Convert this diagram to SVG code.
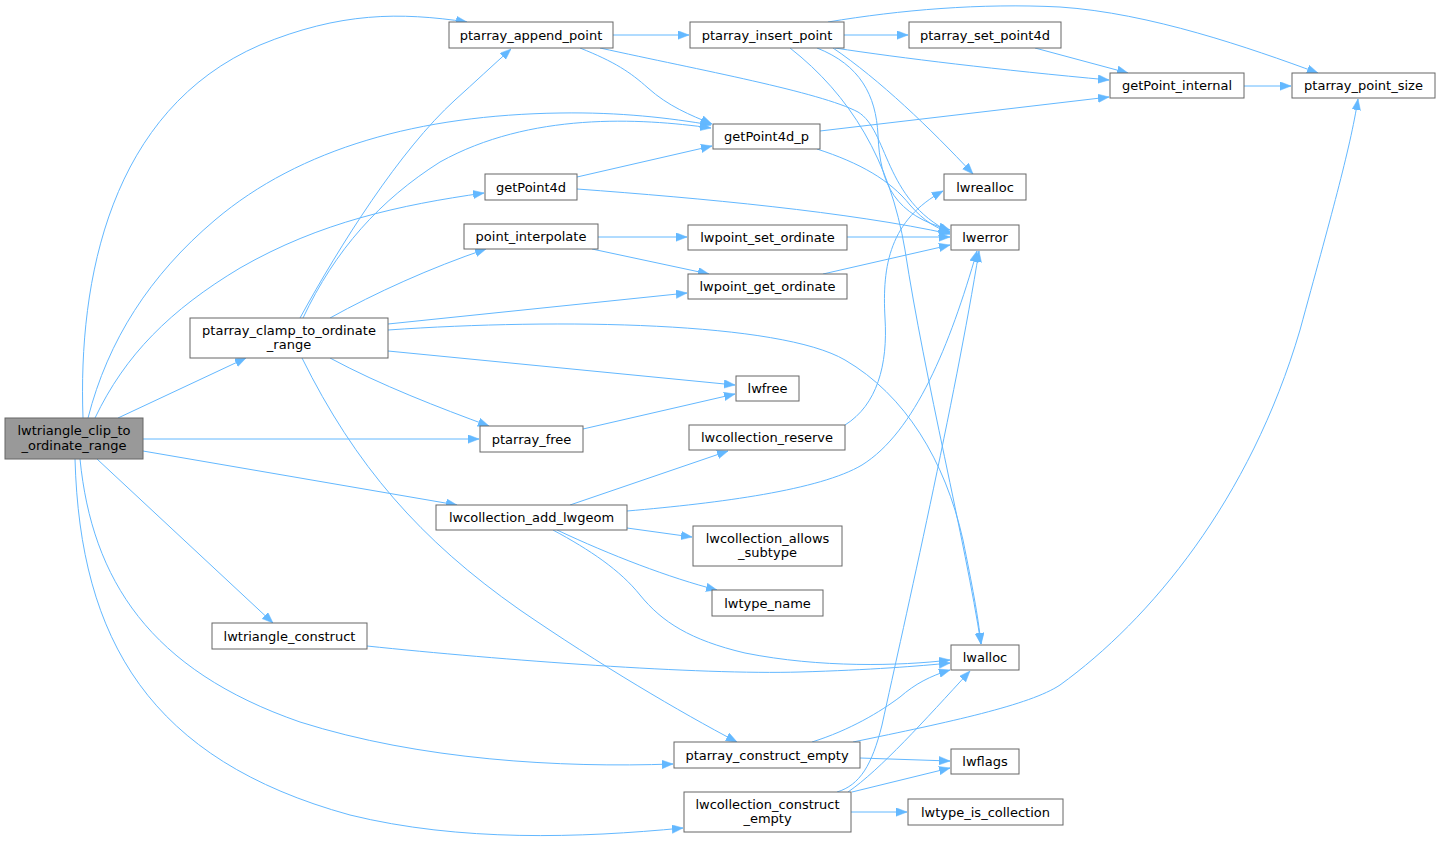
<svg xmlns="http://www.w3.org/2000/svg" width="1440" height="846" viewBox="0 0 1440 846">
<style>
.bg{fill:#ffffff}
.node rect{fill:#ffffff;stroke:#666666;stroke-width:1}
.node.main rect{fill:#999999}
.node text{font-family:"DejaVu Sans","Liberation Sans",sans-serif;font-size:13px;fill:#000000;text-anchor:middle}
.edges path{fill:none;stroke:#63b8ff;stroke-width:1;marker-end:url(#ah)}
</style>
<defs>
<marker id="ah" markerUnits="userSpaceOnUse" markerWidth="11" markerHeight="9" refX="11" refY="4.25" orient="auto">
<path d="M0,0 L11,4.25 L0,8.5 z" fill="#63b8ff" stroke="#63b8ff" stroke-width="0.5"/>
</marker>
</defs>
<rect class="bg" x="0" y="0" width="1440" height="846"/>
<g class="edges" id="edges">
<path d="M83,418 C78,280 110,110 260,45 C340,12 400,12 467,22"/>
<path d="M88,418 C108,340 150,275 215,220 C300,148 420,115 560,113 C620,112 670,118 711,125"/>
<path d="M95,418 C125,355 170,310 240,268 C320,222 400,205 484,193"/>
<path d="M118,418 L246,358"/>
<path d="M143,439 L479,439"/>
<path d="M143,451 L457,505"/>
<path d="M97,459 L273,623"/>
<path d="M80,459 C92,580 150,670 300,722 C420,760 560,768 673,764"/>
<path d="M75,459 C80,640 150,760 350,815 C460,842 580,838 683,828"/>
<path d="M300,318 C340,245 400,150 455,100 C475,82 492,66 511,49"/>
<path d="M303,318 C335,250 380,200 440,162 C530,112 640,118 711,128"/>
<path d="M330,318 C375,293 430,268 486,249"/>
<path d="M388,324 L687,293"/>
<path d="M388,330 C560,318 780,322 845,360 C905,395 945,460 963,540 C972,585 978,615 981,644"/>
<path d="M388,351 L735,385"/>
<path d="M330,358 C380,385 440,408 489,426"/>
<path d="M302,358 C355,465 420,540 520,610 C600,665 680,712 737,742"/>
<path d="M613,35 L689,35"/>
<path d="M580,48 C615,62 630,72 648,88 C668,106 690,115 712,124"/>
<path d="M600,48 C700,70 820,92 858,112 C888,130 884,200 950,232"/>
<path d="M844,35 L908,35"/>
<path d="M828,22 C900,10 980,3 1060,7 C1150,13 1250,48 1318,73"/>
<path d="M835,48 C900,58 1000,70 1109,80"/>
<path d="M833,48 C880,80 930,128 973,174"/>
<path d="M817,48 C860,65 876,95 878,135 C880,185 895,215 950,230"/>
<path d="M790,48 C850,95 890,160 905,250 C925,380 965,540 981,644"/>
<path d="M820,131 L1109,97"/>
<path d="M817,149 C860,163 890,180 910,205 C925,222 935,227 950,233"/>
<path d="M577,177 L712,146"/>
<path d="M577,189 C700,198 850,212 950,234"/>
<path d="M598,237 L687,237"/>
<path d="M592,249 L709,274"/>
<path d="M847,237 L950,237"/>
<path d="M823,274 L950,245"/>
<path d="M1035,48 L1128,73"/>
<path d="M1244,86 L1291,86"/>
<path d="M583,429 L735,394"/>
<path d="M845,425 C877,405 888,365 885,318 C882,265 890,220 943,191"/>
<path d="M570,505 L728,451"/>
<path d="M627,511 C720,503 820,490 862,465 C915,432 950,345 977,251"/>
<path d="M627,528 L692,537"/>
<path d="M557,530 C610,555 670,578 717,590"/>
<path d="M553,530 C590,550 620,570 640,595 C662,622 690,640 745,653 C820,668 900,666 950,660"/>
<path d="M367,646 C500,660 700,675 800,672 C870,670 920,666 950,663"/>
<path d="M812,742 C850,730 880,712 900,697 C915,684 930,676 950,670"/>
<path d="M860,758 L950,761"/>
<path d="M853,742 C950,722 1030,705 1060,685 C1150,620 1250,500 1300,330 C1330,220 1350,150 1358,99"/>
<path d="M837,792 C860,785 872,765 882,725 C905,620 955,400 979,251"/>
<path d="M848,792 C880,770 925,720 970,671"/>
<path d="M852,792 L950,768"/>
<path d="M851,812 L907,812"/>
</g>
<g class="node main" id="lwtriangle_clip_to_ordinate_range"><rect x="5" y="418" width="138" height="41"/><text x="74" y="435">lwtriangle_clip_to</text><text x="74" y="449.5">_ordinate_range</text></g>
<g class="node" id="ptarray_append_point"><rect x="449" y="22" width="164" height="26"/><text x="531" y="39.5">ptarray_append_point</text></g>
<g class="node" id="ptarray_insert_point"><rect x="690" y="22" width="154" height="26"/><text x="767" y="39.5">ptarray_insert_point</text></g>
<g class="node" id="ptarray_set_point4d"><rect x="909" y="22" width="152" height="26"/><text x="985" y="39.5">ptarray_set_point4d</text></g>
<g class="node" id="getPoint_internal"><rect x="1110" y="73" width="134" height="25"/><text x="1177" y="90">getPoint_internal</text></g>
<g class="node" id="ptarray_point_size"><rect x="1292" y="73" width="143" height="25"/><text x="1363.5" y="90">ptarray_point_size</text></g>
<g class="node" id="getPoint4d_p"><rect x="713" y="124" width="107" height="25"/><text x="766.5" y="141">getPoint4d_p</text></g>
<g class="node" id="getPoint4d"><rect x="485" y="174" width="92" height="26"/><text x="531" y="191.5">getPoint4d</text></g>
<g class="node" id="lwrealloc"><rect x="944" y="174" width="82" height="26"/><text x="985" y="191.5">lwrealloc</text></g>
<g class="node" id="point_interpolate"><rect x="464" y="224" width="134" height="25"/><text x="531" y="241">point_interpolate</text></g>
<g class="node" id="lwpoint_set_ordinate"><rect x="688" y="225" width="159" height="25"/><text x="767.5" y="242">lwpoint_set_ordinate</text></g>
<g class="node" id="lwerror"><rect x="951" y="225" width="68" height="25"/><text x="985" y="242">lwerror</text></g>
<g class="node" id="lwpoint_get_ordinate"><rect x="688" y="274" width="159" height="25"/><text x="767.5" y="291">lwpoint_get_ordinate</text></g>
<g class="node" id="ptarray_clamp_to_ordinate_range"><rect x="190" y="318" width="198" height="40"/><text x="289" y="334.5">ptarray_clamp_to_ordinate</text><text x="289" y="349">_range</text></g>
<g class="node" id="lwfree"><rect x="736" y="376" width="63" height="25"/><text x="767.5" y="393">lwfree</text></g>
<g class="node" id="ptarray_free"><rect x="480" y="426" width="103" height="26"/><text x="531.5" y="443.5">ptarray_free</text></g>
<g class="node" id="lwcollection_reserve"><rect x="689" y="425" width="156" height="25"/><text x="767" y="442">lwcollection_reserve</text></g>
<g class="node" id="lwcollection_add_lwgeom"><rect x="436" y="505" width="191" height="25"/><text x="531.5" y="522">lwcollection_add_lwgeom</text></g>
<g class="node" id="lwcollection_allows_subtype"><rect x="693" y="526" width="149" height="40"/><text x="767.5" y="542.5">lwcollection_allows</text><text x="767.5" y="557">_subtype</text></g>
<g class="node" id="lwtype_name"><rect x="712" y="590" width="111" height="26"/><text x="767.5" y="607.5">lwtype_name</text></g>
<g class="node" id="lwtriangle_construct"><rect x="212" y="623" width="155" height="26"/><text x="289.5" y="640.5">lwtriangle_construct</text></g>
<g class="node" id="lwalloc"><rect x="951" y="645" width="68" height="25"/><text x="985" y="662">lwalloc</text></g>
<g class="node" id="ptarray_construct_empty"><rect x="674" y="742" width="186" height="26"/><text x="767" y="759.5">ptarray_construct_empty</text></g>
<g class="node" id="lwflags"><rect x="951" y="749" width="68" height="25"/><text x="985" y="766">lwflags</text></g>
<g class="node" id="lwcollection_construct_empty"><rect x="684" y="792" width="167" height="40"/><text x="767.5" y="808.5">lwcollection_construct</text><text x="767.5" y="823">_empty</text></g>
<g class="node" id="lwtype_is_collection"><rect x="908" y="799" width="155" height="26"/><text x="985.5" y="816.5">lwtype_is_collection</text></g>
</svg>
